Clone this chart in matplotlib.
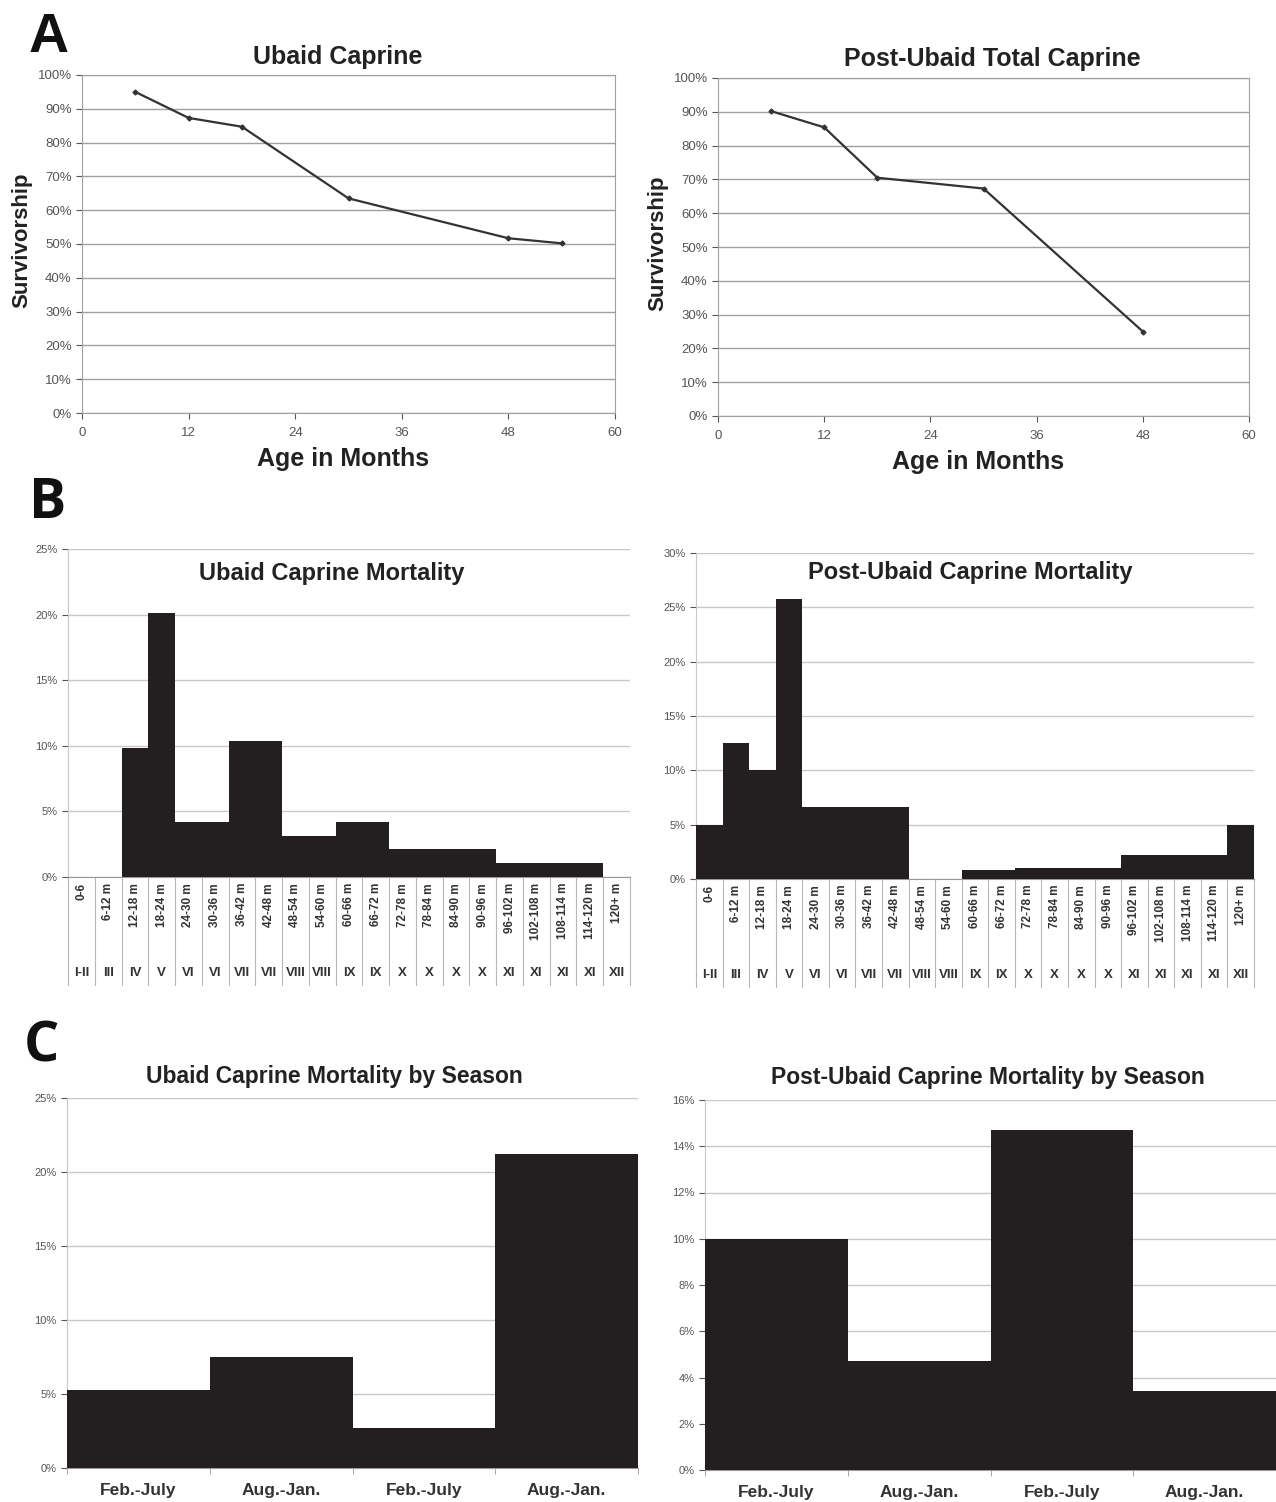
#scientific imports
import numpy as np
import matplotlib
matplotlib.use('Agg')
import matplotlib.pyplot as pl
from matplotlib.axes import Axes
from matplotlib.ticker import PercentFormatter, MultipleLocator, FixedLocator

pl.rc('font', family=['Liberation Sans', 'DejaVu Sans'])

# --- data ---
ubaid_age = [6, 12, 18, 30, 48, 54]
ubaid_surv = [95.0, 87.3, 84.7, 63.5, 51.7, 50.2]
post_age = [6, 12, 18, 30, 48]
post_surv = [90.2, 85.4, 70.5, 67.3, 25.0]

age_classes = ['0-6', '6-12 m', '12-18 m', '18-24 m', '24-30 m', '30-36 m', '36-42 m',
               '42-48 m', '48-54 m', '54-60 m', '60-66 m', '66-72 m', '72-78 m', '78-84 m',
               '84-90 m', '90-96 m', '96-102 m', '102-108 m', '108-114 m', '114-120 m', '120+ m']
payne_stages = ['I-II', 'III', 'IV', 'V', 'VI', 'VI', 'VII', 'VII', 'VIII', 'VIII', 'IX', 'IX',
                'X', 'X', 'X', 'X', 'XI', 'XI', 'XI', 'XI', 'XII']
ubaid_mort = [0, 0, 9.8, 20.1, 4.2, 4.2, 10.4, 10.4, 3.1, 3.1, 4.2, 4.2,
              2.1, 2.1, 2.1, 2.1, 1.05, 1.05, 1.05, 1.05, 0]
post_mort = [5.0, 12.5, 10.0, 25.8, 6.6, 6.6, 6.6, 6.6, 0, 0, 0.8, 0.8,
             1.0, 1.0, 1.0, 1.0, 2.25, 2.25, 2.25, 2.25, 5.0]

seasons = ['Feb.-July', 'Aug.-Jan.', 'Feb.-July', 'Aug.-Jan.']
ubaid_season = [5.3, 7.5, 2.7, 21.2]
post_season = [10.0, 4.7, 14.7, 3.4]

BAR = '#231f20'
GRID = '#c8c8c8'
TICK = '#555555'

W, H = 1276, 1502


def px_axes(fig, x0, y0, x1, y1) -> Axes:
    """axes from pixel box (top-left origin)"""
    return fig.add_axes([x0 / W, 1 - y1 / H, (x1 - x0) / W, (y1 - y0) / H])


def survival_panel(ax: Axes, age, surv, title, tx, ty):
    ax.plot(age, surv, '-', color='#333333', lw=1.6, marker='D', markersize=2.5)
    ax.set_xlim(0, 60)
    ax.set_ylim(0, 100)
    ax.xaxis.set_major_locator(MultipleLocator(12))
    ax.yaxis.set_major_locator(MultipleLocator(10))
    ax.yaxis.set_major_formatter(PercentFormatter(decimals=0))
    ax.grid(axis='y', color='#a0a0a0', lw=1.0)
    ax.set_axisbelow(True)
    for s in ax.spines.values():
        s.set_color('#a0a0a0')
    ax.tick_params(labelsize=9.5, colors=TICK, length=4, width=0.8)
    ax.tick_params(axis='x', pad=6)
    ax.text(tx, ty, title, transform=ax.transAxes, ha='center', va='center',
            fontsize=18, fontweight='bold', color='#222222')
    ax.text(0.49, -0.136, 'Age in Months', transform=ax.transAxes, ha='center',
            va='center', fontsize=18, fontweight='bold', color='#222222')
    ax.text(-0.113, 0.51, 'Survivorship', transform=ax.transAxes, ha='center',
            va='center', rotation=90, fontsize=16, fontweight='bold', color='#222222')


def mortality_panel(ax: Axes, values, ymax, title, tx, ty):
    n = len(values)
    edges = np.arange(n + 1) - 0.5
    ax.stairs(values, edges, fill=True, color=BAR, zorder=3)
    ax.set_xlim(-0.5, n - 0.5)
    ax.set_ylim(0, ymax)
    ax.yaxis.set_major_locator(MultipleLocator(5))
    ax.yaxis.set_major_formatter(PercentFormatter(decimals=0))
    ax.grid(axis='y', color=GRID, lw=1.0)
    ax.set_axisbelow(True)
    ax.spines['top'].set_visible(False)
    ax.spines['right'].set_visible(False)
    ax.spines['left'].set_color(GRID)
    ax.spines['bottom'].set_color('#999999')
    ax.tick_params(axis='y', labelsize=8, colors=TICK, length=4, width=0.8)
    ax.set_xticks([])
    ax.text(tx, ty, title, transform=ax.transAxes, ha='center', va='center',
            fontsize=17, fontweight='bold', color='#222222')
    trans = ax.get_xaxis_transform()
    # category dividers running below the axis
    for edge in edges:
        ax.plot([edge, edge], [0, -0.33], transform=trans, color='#b8b8b8',
                lw=0.8, clip_on=False)
    for i, (lab, stage) in enumerate(zip(age_classes, payne_stages)):
        ax.text(i, -0.018, lab, transform=trans, rotation=90, ha='center', va='top',
                fontsize=8.5, fontweight='bold', color='#333333')
        ax.text(i, -0.293, stage, transform=trans, ha='center', va='center',
                fontsize=9.5, fontweight='bold', color='#333333')


def season_panel(ax: Axes, values, ymax, step, title, tx, ty):
    n = len(values)
    edges = np.arange(n + 1) - 0.5
    ax.stairs(values, edges, fill=True, color=BAR, zorder=3)
    ax.set_xlim(-0.5, n - 0.5)
    ax.set_ylim(0, ymax)
    ax.yaxis.set_major_locator(MultipleLocator(step))
    ax.yaxis.set_major_formatter(PercentFormatter(decimals=0))
    ax.grid(axis='y', color=GRID, lw=1.0)
    ax.set_axisbelow(True)
    ax.spines['top'].set_visible(False)
    ax.spines['right'].set_visible(False)
    ax.spines['left'].set_color(GRID)
    ax.spines['bottom'].set_color('#999999')
    ax.tick_params(axis='y', labelsize=8, colors=TICK, length=4, width=0.8)
    ax.set_xticks(np.arange(n))
    ax.set_xticklabels(seasons, fontsize=12.5, fontweight='bold', color='#333333')
    ax.tick_params(axis='x', which='major', length=0, pad=11)
    ax.xaxis.set_minor_locator(FixedLocator(edges))
    ax.tick_params(axis='x', which='minor', length=4, color='#999999')
    ax.text(tx, ty, title, transform=ax.transAxes, ha='center', va='center',
            fontsize=16.5, fontweight='bold', color='#222222')


fig = pl.figure(figsize=(W / 100, H / 100), dpi=100)

ax_a1 = px_axes(fig, 82, 75, 615, 413)
survival_panel(ax_a1, ubaid_age, ubaid_surv, 'Ubaid Caprine', 0.48, 1.053)
ax_a2 = px_axes(fig, 718, 78, 1249, 416)
survival_panel(ax_a2, post_age, post_surv, 'Post-Ubaid Total Caprine', 0.516, 1.056)

ax_b1 = px_axes(fig, 68, 549, 630, 877)
mortality_panel(ax_b1, ubaid_mort, 25, 'Ubaid Caprine Mortality', 0.47, 0.924)
ax_b2 = px_axes(fig, 696, 553, 1254, 879)
mortality_panel(ax_b2, post_mort, 30, 'Post-Ubaid Caprine Mortality', 0.491, 0.939)

ax_c1 = px_axes(fig, 67, 1098, 638, 1468)
season_panel(ax_c1, ubaid_season, 25, 5, 'Ubaid Caprine Mortality by Season', 0.469, 1.057)
ax_c2 = px_axes(fig, 705, 1100, 1276, 1470)
season_panel(ax_c2, post_season, 16, 2, 'Post-Ubaid Caprine Mortality by Season', 0.496, 1.062)

panel_letters = [('A', 29, 12, 'Liberation Sans'), ('B', 29, 476, 'Open Sans'),
                 ('C', 24, 1019, 'Open Sans')]
for letter, lx, ly, fam in panel_letters:
    fig.text(lx / W, 1 - ly / H, letter, ha='left', va='top', fontsize=40,
             fontweight='bold', family=[fam, 'DejaVu Sans'], color='#111111')

fig.savefig('out.png', dpi=100)
pl.close(fig)
